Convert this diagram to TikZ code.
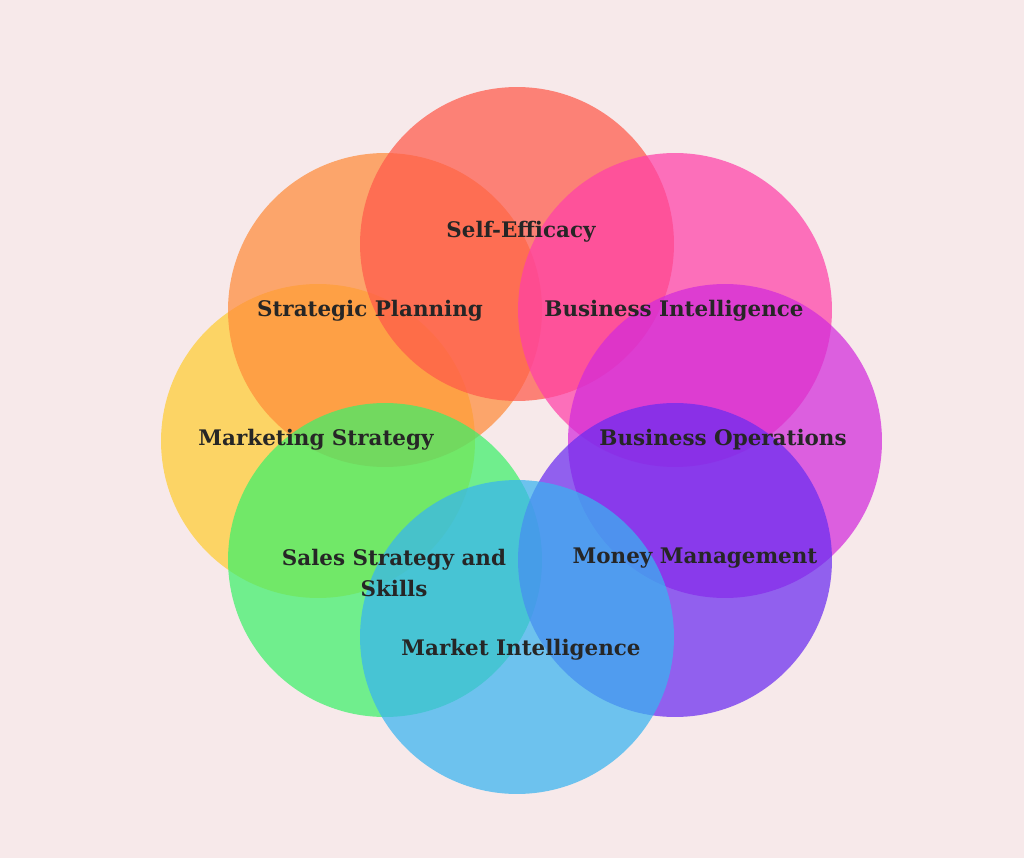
\documentclass[tikz,border=0pt]{standalone}
\usepackage{fontspec}
\setmainfont{DejaVu Serif}
\definecolor{bgc}{HTML}{F7E9EA}
\definecolor{cRed}{HTML}{FF5A4A}
\definecolor{cOra}{HTML}{FF8C3A}
\definecolor{cPink}{HTML}{FF40A8}
\definecolor{cYel}{HTML}{FFCC33}
\definecolor{cMag}{HTML}{D22ADB}
\definecolor{cGrn}{HTML}{3CF06A}
\definecolor{cPur}{HTML}{6A2CF0}
\definecolor{cBlu}{HTML}{38B4F0}
\begin{document}
\begin{tikzpicture}[x=0.02cm,y=-0.02cm,
  blob/.style={circle,minimum size=6.28cm,inner sep=0,fill=#1,fill opacity=0.72,draw=none},
  lbl/.style={font=\fontsize{12.2}{18}\selectfont\bfseries,text=black!85,align=center}]
\fill[bgc] (0,0) rectangle (1024,858);
\node[blob=cYel] (yel) at (318,441) {};
\node[blob=cOra] (ora) at (385,310) {};
\node[blob=cRed] (red) at (517,244) {};
\node[blob=cPink] (pink) at (675,310) {};
\node[blob=cMag] (mag) at (725,441) {};
\node[blob=cGrn] (grn) at (385,560) {};
\node[blob=cPur] (pur) at (675,560) {};
\node[blob=cBlu] (blu) at (517,637) {};
\node[lbl] (t1) at (521,232) {Self-Efficacy};
\node[lbl] (t2) at (370,311) {Strategic Planning};
\node[lbl] (t3) at (674,311) {Business Intelligence};
\node[lbl] (t4) at (316,440) {Marketing Strategy};
\node[lbl] (t5) at (723,440) {Business Operations};
\node[lbl] (t6) at (394,573) {Sales Strategy and\\Skills};
\node[lbl] (t7) at (695,558) {Money Management};
\node[lbl] (t8) at (521,650) {Market Intelligence};
\end{tikzpicture}
\end{document}
